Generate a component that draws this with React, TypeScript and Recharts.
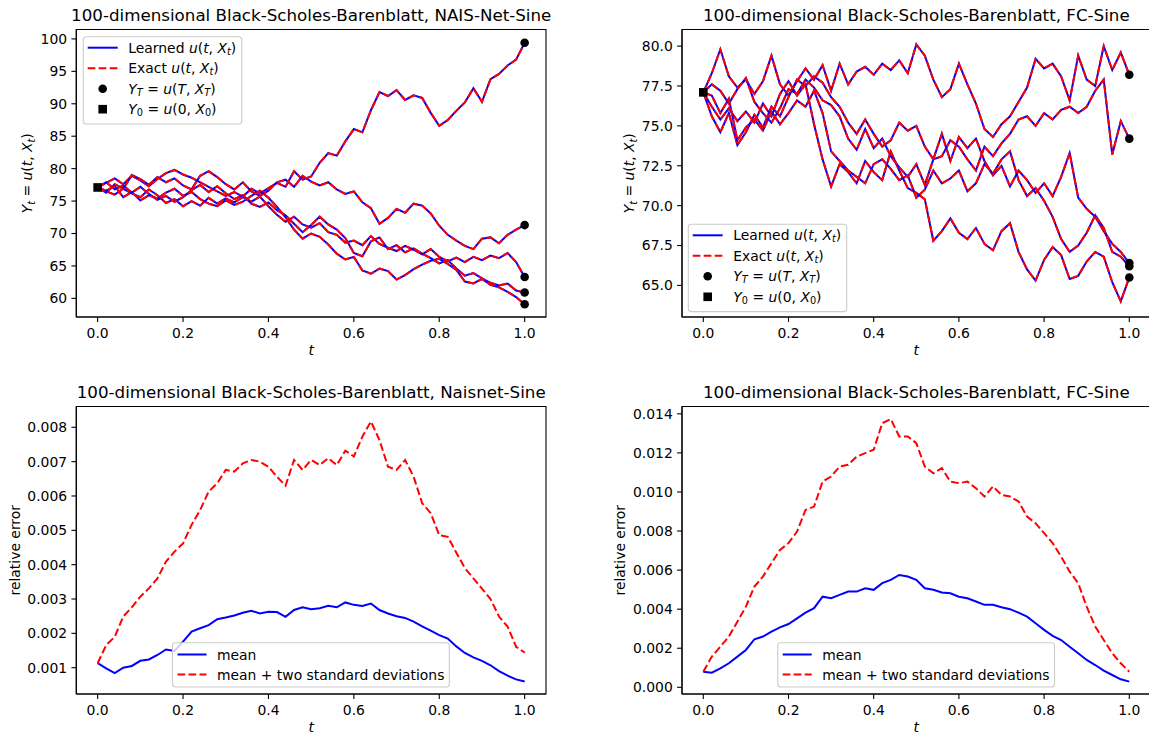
import React from "react";
import { ComposedChart, Line, Scatter, XAxis, YAxis, ReferenceArea } from "recharts";

const FONT = "'DejaVu Sans', sans-serif";
const BLUE = "#0000ff";
const RED = "#ff0000";
const DASH = "7.7 3.3";

// time grid shared by every curve
const T_GRID = [
  0, 0.02, 0.04, 0.06, 0.08, 0.1, 0.12, 0.14, 0.16, 0.18,
  0.2, 0.22, 0.24, 0.26, 0.28, 0.3, 0.32, 0.34, 0.36, 0.38,
  0.4, 0.42, 0.44, 0.46, 0.48, 0.5, 0.52, 0.54, 0.56, 0.58,
  0.6, 0.62, 0.64, 0.66, 0.68, 0.7, 0.72, 0.74, 0.76, 0.78,
  0.8, 0.82, 0.84, 0.86, 0.88, 0.9, 0.92, 0.94, 0.96, 0.98,
  1,
];
const X_TICKS = [0, 0.2, 0.4, 0.6, 0.8, 1];
const X_DOMAIN = [-0.05, 1.05];

// NAIS-Net-Sine sample paths
const NAIS_A = [
  77.1, 77.8, 78.5, 77.6, 78.9, 78.2, 77.3, 78.4, 79.3, 79.8,
  79.1, 78.6, 77.9, 77.2, 76.5, 75.8, 76.4, 75.7, 76.9, 76.2,
  77.0, 77.8, 77.2, 79.6, 78.3, 78.8, 80.9, 82.4, 82.0, 84.2,
  86.1, 85.6, 89.0, 91.8, 91.2, 92.1, 90.6, 91.3, 90.9, 88.6,
  86.6, 87.5, 88.9, 90.2, 92.4, 90.3, 93.8, 94.6, 95.9, 96.8,
  99.4,
];
const NAIS_B = [
  77.1, 76.3, 77.6, 76.9, 79.0, 78.4, 77.5, 78.7, 77.9, 78.5,
  77.4, 76.8, 78.9, 79.6, 78.7, 77.6, 76.8, 77.9, 76.5, 75.8,
  76.6, 77.9, 78.3, 77.2, 78.9, 78.0, 77.4, 77.9, 76.8, 76.1,
  76.5, 74.8, 73.9, 71.5, 72.4, 73.8, 73.2, 74.6, 74.3, 73.1,
  71.2, 69.8, 68.9, 68.1, 67.6, 69.2, 69.4, 68.5, 69.8, 70.6,
  71.3,
];
const NAIS_C = [
  77.1, 76.5, 76.0, 76.9, 76.2, 75.6, 76.8, 75.9, 74.7, 75.3,
  74.2, 75.0, 74.3, 75.5, 74.6, 75.4, 74.8, 75.6, 74.9, 75.7,
  74.2, 72.9, 71.8, 72.6, 71.4, 70.9, 71.6, 70.2, 69.8, 68.6,
  68.9, 68.2, 69.6, 68.4, 67.8, 67.3, 68.1, 67.5, 66.8, 67.6,
  66.4, 65.7, 66.3, 65.6, 66.4, 65.9, 66.6, 66.2, 67.0, 65.6,
  63.3,
];
const NAIS_D = [
  77.1, 77.9, 76.8, 77.4, 76.3, 77.2, 76.1, 75.2, 75.8, 74.9,
  75.6, 76.7, 77.5, 76.4, 77.3, 76.2, 75.3, 75.9, 74.6, 74.1,
  74.8, 73.6, 72.8, 71.5, 70.2, 71.3, 72.6, 71.4, 70.6, 69.3,
  67.0, 66.5, 68.8, 69.4, 67.6, 68.2, 67.1, 67.7, 66.9, 66.2,
  65.4, 65.9, 64.6, 63.5, 63.9, 63.1, 62.4, 62.0, 62.3, 61.2,
  60.9,
];
const NAIS_E = [
  77.1, 76.6, 77.3, 75.6, 76.4, 75.1, 75.9, 75.4, 76.3, 76.9,
  75.8, 76.4, 75.3, 74.6, 74.2, 75.1, 74.4, 74.9, 75.8, 76.6,
  75.5, 74.1, 72.5, 70.6, 69.2, 70.0, 69.5, 68.3, 66.9, 66.0,
  66.4, 64.3, 63.8, 64.6, 64.2, 62.9, 63.6, 64.5, 65.2, 65.8,
  66.1, 65.3, 64.4, 62.6, 62.3, 63.0, 62.1, 61.7, 61.0, 60.2,
  59.1,
];
const NAIS_START = [77.1];
const NAIS_END = [99.4, 71.3, 63.3, 60.9, 59.1];

// FC-Sine sample paths
const FC_A = [
  77.1, 78.3, 79.8, 78.1, 77.4, 77.9, 77.0, 77.8, 79.4, 77.6,
  76.9, 77.8, 78.6, 77.9, 78.8, 77.2, 78.9, 77.6, 78.4, 78.7,
  78.2, 78.9, 78.5, 79.1, 78.3, 80.1, 79.4, 77.9, 76.8, 77.3,
  78.9, 77.6, 76.4, 74.8, 74.3, 75.1, 75.6, 76.5, 77.4, 79.2,
  78.6, 78.9, 78.1, 76.6, 79.4, 77.9, 77.5, 80.0, 78.5, 79.6,
  78.2,
];
const FC_B = [
  77.1, 75.6, 74.6, 75.8, 73.8, 74.6, 75.7, 74.9, 76.2, 75.6,
  76.8, 77.9, 77.5, 78.1, 77.7, 76.8, 76.2, 75.2, 74.5, 75.4,
  74.5, 73.7, 74.1, 75.2, 74.7, 75.0, 73.7, 72.9, 73.1, 74.1,
  73.7, 72.9, 72.2, 73.7, 73.1, 73.9, 74.5, 75.4, 75.6, 75.0,
  75.8, 75.4, 76.0, 76.2, 75.8, 76.2, 77.2, 77.9, 73.2, 75.3,
  74.2,
];
const FC_C = [
  77.1, 76.2, 75.4, 76.1, 75.3, 75.9, 75.2, 76.4, 75.6, 77.0,
  77.8, 76.9, 77.6, 75.1, 72.9, 71.2, 72.6, 72.1, 71.4, 72.8,
  72.1, 71.6, 73.4, 72.2, 71.1, 70.8, 70.4, 67.8, 68.4, 69.2,
  68.3, 67.9, 68.6, 67.6, 67.2, 68.4, 68.9, 67.1, 66.0, 65.3,
  66.6, 67.4, 66.9, 65.4, 65.6, 66.5, 67.1, 66.8, 65.2, 64.0,
  65.5,
];
const FC_D = [
  77.1, 77.6, 77.2, 76.4, 77.3, 78.0, 76.5, 75.8, 75.2, 76.1,
  77.3, 77.0, 77.9, 77.4, 76.6, 76.3, 75.6, 74.2, 73.5, 74.8,
  73.6, 74.2, 73.1, 72.4, 71.8, 72.6, 71.3, 72.9, 74.5, 72.8,
  74.3, 73.6, 74.2, 72.8, 71.9, 72.5, 71.2, 72.2, 71.6, 70.8,
  71.4, 70.6, 71.8, 73.3, 70.5, 69.8, 69.3, 68.4, 67.6, 67.1,
  66.4,
];
const FC_E = [
  77.1, 76.9, 75.8, 76.7, 74.1, 74.9, 75.4, 74.7, 75.9, 75.1,
  75.8, 76.6, 76.2, 77.2, 75.8, 73.4, 72.8, 72.2, 71.8, 71.4,
  72.6, 72.9, 72.3, 71.6, 71.9, 70.5, 71.0, 72.2, 71.4, 71.7,
  72.2, 70.9, 71.4, 72.6, 72.0, 72.9, 73.4, 71.6, 70.6, 71.1,
  70.3, 69.3, 67.9, 67.1, 67.5, 68.3, 69.4, 68.6, 67.1, 66.8,
  66.2,
];
const FC_START = [77.1];
const FC_END = [78.2, 74.2, 65.5, 66.4, 66.2];

// relative errors
const NAIS_MEAN = [
  0.00113, 0.00098, 0.00084, 0.001, 0.00105, 0.0012, 0.00124, 0.00137, 0.00153, 0.00149,
  0.00176, 0.00205, 0.00215, 0.00224, 0.00241, 0.00246, 0.00252, 0.0026, 0.00266, 0.00258,
  0.00263, 0.00262, 0.00248, 0.00268, 0.00276, 0.0027, 0.00273, 0.0028, 0.00276, 0.0029,
  0.00283, 0.0028, 0.00287, 0.00268, 0.00258, 0.0025, 0.00245, 0.00234, 0.0022, 0.00208,
  0.00195, 0.00185, 0.00162, 0.00143, 0.0013, 0.0012, 0.00107, 0.0009, 0.00077, 0.00066,
  0.0006,
];
const NAIS_UPPER = [
  0.00113, 0.00166, 0.0019, 0.00249, 0.00276, 0.00307, 0.00331, 0.0036, 0.00409, 0.00438,
  0.00462, 0.00516, 0.00559, 0.00613, 0.00637, 0.00676, 0.00671, 0.00695, 0.00705, 0.007,
  0.00685, 0.00656, 0.0063, 0.00705, 0.00676, 0.00705, 0.0069, 0.0071, 0.0069, 0.00732,
  0.00715, 0.00773, 0.00817, 0.00763, 0.00685, 0.00676, 0.00705, 0.00656, 0.00579, 0.0055,
  0.00486, 0.00481, 0.00435, 0.0039, 0.0036, 0.0033, 0.003, 0.00249, 0.0022, 0.00161,
  0.00144,
];
const FC_MEAN = [
  0.0008, 0.00075, 0.00097, 0.00123, 0.00157, 0.00191, 0.00246, 0.0026, 0.00285, 0.00307,
  0.00324, 0.00353, 0.00382, 0.00405, 0.00464, 0.00456, 0.00473, 0.0049, 0.0049, 0.00507,
  0.00499, 0.00533, 0.0055, 0.00575, 0.00567, 0.0055, 0.00507, 0.00499, 0.00485, 0.00481,
  0.00464, 0.00456, 0.00439, 0.00422, 0.00422, 0.0041, 0.004, 0.00382, 0.00362, 0.00328,
  0.00294, 0.00263, 0.00242, 0.00208, 0.00174, 0.0014, 0.00114, 0.00085, 0.00063, 0.00041,
  0.00029,
];
const FC_UPPER = [
  0.0008, 0.00157, 0.00208, 0.0026, 0.00336, 0.00413, 0.00516, 0.00567, 0.00635, 0.00703,
  0.00738, 0.00797, 0.00908, 0.00925, 0.01053, 0.01079, 0.0113, 0.01139, 0.01181, 0.01199,
  0.01216, 0.01352, 0.01373, 0.01284, 0.01284, 0.0125, 0.0113, 0.01096, 0.01122, 0.01053,
  0.01045, 0.01053, 0.01019, 0.00977, 0.01028, 0.00985, 0.00977, 0.00951, 0.00874, 0.0084,
  0.00789, 0.00738, 0.00669, 0.00592, 0.00533, 0.00413, 0.00311, 0.00242, 0.00174, 0.00123,
  0.0008,
];

const NAIS_Y_TICKS = [60, 65, 70, 75, 80, 85, 90, 95, 100];
const FC_Y_TICKS = [65, 67.5, 70, 72.5, 75, 77.5, 80];
const NAIS_ERR_TICKS = [0.001, 0.002, 0.003, 0.004, 0.005, 0.006, 0.007, 0.008];
const FC_ERR_TICKS = [0, 0.002, 0.004, 0.006, 0.008, 0.01, 0.012, 0.014];

type Seg = { s: string; i?: boolean; sub?: boolean };

const LEARNED: Seg[] = [{ s: "Learned " }, { s: "u", i: true }, { s: "(" }, { s: "t", i: true }, { s: ", " }, { s: "X", i: true }, { s: "t", i: true, sub: true }, { s: ")" }];
const EXACT: Seg[] = [{ s: "Exact " }, { s: "u", i: true }, { s: "(" }, { s: "t", i: true }, { s: ", " }, { s: "X", i: true }, { s: "t", i: true, sub: true }, { s: ")" }];
const YT: Seg[] = [{ s: "Y", i: true }, { s: "T", i: true, sub: true }, { s: " = " }, { s: "u", i: true }, { s: "(" }, { s: "T", i: true }, { s: ", " }, { s: "X", i: true }, { s: "T", i: true, sub: true }, { s: ")" }];
const Y0: Seg[] = [{ s: "Y", i: true }, { s: "0", sub: true }, { s: " = " }, { s: "u", i: true }, { s: "(0, " }, { s: "X", i: true }, { s: "0", sub: true }, { s: ")" }];
const YLAB: Seg[] = [{ s: "Y", i: true }, { s: "t", i: true, sub: true }, { s: " = " }, { s: "u", i: true }, { s: "(" }, { s: "t", i: true }, { s: ", " }, { s: "X", i: true }, { s: "t", i: true, sub: true }, { s: ")" }];

const pathRows = (paths: number[][]) =>
  T_GRID.map((t, i) => {
    const r: Record<string, number> = { t };
    paths.forEach((p, k) => {
      r["l" + k] = p[i];
      r["e" + k] = p[i];
    });
    return r;
  });

const errRows = (mean: number[], upper: number[]) =>
  T_GRID.map((t, i) => ({ t, mean: mean[i], upper: upper[i] }));

const naisRows = pathRows([NAIS_A, NAIS_B, NAIS_C, NAIS_D, NAIS_E]);
const fcRows = pathRows([FC_A, FC_B, FC_C, FC_D, FC_E]);
const pathLines = [0, 1, 2, 3, 4].flatMap((k) => [
  { key: "l" + k, color: BLUE },
  { key: "e" + k, color: RED, dash: DASH },
]);
const errLines = [
  { key: "mean", color: BLUE },
  { key: "upper", color: RED, dash: DASH },
];

const TICK = { fill: "#000", fontSize: 13.9, fontFamily: FONT };
const AX = { stroke: "#000", strokeWidth: 1.1 };

const circleShape = (p: any) => <circle cx={p.cx} cy={p.cy} r={4.3} fill="#000" />;
const squareShape = (p: any) => <rect x={p.cx - 4.3} y={p.cy - 4.3} width={8.6} height={8.6} fill="#000" />;

function Panel(props: any) {
  const { left, top, width, height, margin, yWidth, xHeight, rows, lines, yDomain, yTicks, yFmt, ends, starts } = props;
  return (
    <div style={{ position: "absolute", left, top }}>
      <ComposedChart width={width} height={height} data={rows} margin={margin}>
        <XAxis dataKey="t" type="number" domain={X_DOMAIN} ticks={X_TICKS} interval={0} allowDataOverflow
          tickFormatter={(v: number) => v.toFixed(1)} height={xHeight} tick={TICK} tickLine={AX} axisLine={AX}
          tickSize={4.9} tickMargin={6} />
        <YAxis type="number" domain={yDomain} ticks={yTicks} interval={0} allowDataOverflow tickFormatter={yFmt}
          width={yWidth} tick={TICK} tickLine={AX} axisLine={AX} tickSize={4.9} tickMargin={4.3} />
        {/* axes frame (matplotlib spines) */}
        <ReferenceArea x1={X_DOMAIN[0]} x2={X_DOMAIN[1]} y1={yDomain[0]} y2={yDomain[1]} fill="none"
          stroke="#000" strokeWidth={1.1} strokeOpacity={1} ifOverflow="visible" />
        {lines.map((l: any) => (
          <Line key={l.key} dataKey={l.key} type="linear" stroke={l.color} strokeWidth={2} strokeDasharray={l.dash}
            dot={false} activeDot={false} isAnimationActive={false} />
        ))}
        {ends && (
          <Scatter data={ends.map((v: number) => ({ t: 1, v }))} dataKey="v" shape={circleShape} isAnimationActive={false} />
        )}
        {starts && (
          <Scatter data={starts.map((v: number) => ({ t: 0, v }))} dataKey="v" shape={squareShape} isAnimationActive={false} />
        )}
      </ComposedChart>
    </div>
  );
}

function MathText({ x, y, segs, size, anchor = "start", center = false, rotate = false }: any) {
  const shift = size * 0.22;
  let inSub = false;
  const spans = (segs as Seg[]).map((g, k) => {
    let dy: number | undefined;
    if (g.sub && !inSub) dy = shift;
    if (!g.sub && inSub) dy = -shift;
    inSub = !!g.sub;
    return (
      <tspan key={k} dy={dy} fontStyle={g.i ? "italic" : "normal"} fontSize={g.sub ? size * 0.7 : size}>
        {g.s}
      </tspan>
    );
  });
  return (
    <text x={rotate ? 0 : x} y={rotate ? 0 : y} transform={rotate ? `translate(${x},${y}) rotate(-90)` : undefined}
      textAnchor={anchor} dominantBaseline={center ? "central" : "alphabetic"} fontFamily={FONT} fontSize={size}
      fill="#000" style={{ whiteSpace: "pre" }}>
      {spans}
    </text>
  );
}

function MplLegend({ x, y, w, h, rows, row0, step, hx0, hx1, tx }: any) {
  return (
    <g>
      <rect x={x} y={y} width={w} height={h} rx={3} fill="#fff" fillOpacity={0.8} stroke="#cccccc" strokeWidth={1.1} />
      {rows.map((r: any, k: number) => {
        const cy = y + row0 + k * step;
        const mx = x + (hx0 + hx1) / 2;
        let handle;
        if (r.kind === "circle") handle = <circle cx={mx} cy={cy} r={4.3} fill="#000" />;
        else if (r.kind === "square") handle = <rect x={mx - 4.3} y={cy - 4.3} width={8.6} height={8.6} fill="#000" />;
        else handle = <line x1={x + hx0} x2={x + hx1} y1={cy} y2={cy} stroke={r.color} strokeWidth={2} strokeDasharray={r.dash} />;
        return (
          <g key={k}>
            {handle}
            <MathText x={x + tx} y={cy} segs={r.segs} size={13.9} center />
          </g>
        );
      })}
    </g>
  );
}

const PATH_LEGEND = [
  { kind: "line", color: BLUE, segs: LEARNED },
  { kind: "line", color: RED, dash: DASH, segs: EXACT },
  { kind: "circle", segs: YT },
  { kind: "square", segs: Y0 },
];
const ERR_LEGEND = [
  { kind: "line", color: BLUE, segs: [{ s: "mean" }] },
  { kind: "line", color: RED, dash: DASH, segs: [{ s: "mean + two standard deviations" }] },
];

export default function App() {
  const fmt1 = (v: number) => v.toFixed(1);
  const fmt3 = (v: number) => v.toFixed(3);
  return (
    <div style={{ position: "absolute", left: 0, top: 0, width: 1149, height: 734, overflow: "hidden", background: "#fff" }}>
      <Panel left={0} top={0} width={560} height={370} margin={{ top: 29.5, right: 14, bottom: 0, left: 0 }}
        yWidth={76.3} xHeight={53} rows={naisRows} lines={pathLines} yDomain={[57.13, 101.45]}
        yTicks={NAIS_Y_TICKS} yFmt={(v: number) => String(v)} ends={NAIS_END} starts={NAIS_START} />
      <Panel left={600} top={0} width={560} height={370} margin={{ top: 29.5, right: 9.4, bottom: 0, left: 0 }}
        yWidth={82} xHeight={53} rows={fcRows} lines={pathLines} yDomain={[63.02, 81.04]}
        yTicks={FC_Y_TICKS} yFmt={fmt1} ends={FC_END} starts={FC_START} />
      <Panel left={0} top={370} width={560} height={370} margin={{ top: 36.5, right: 14, bottom: 0, left: 0 }}
        yWidth={76.3} xHeight={46} rows={errRows(NAIS_MEAN, NAIS_UPPER)} lines={errLines}
        yDomain={[0.000234, 0.008606]} yTicks={NAIS_ERR_TICKS} yFmt={fmt3} />
      <Panel left={600} top={370} width={560} height={370} margin={{ top: 36.5, right: 9.4, bottom: 0, left: 0 }}
        yWidth={82} xHeight={46} rows={errRows(FC_MEAN, FC_UPPER)} lines={errLines}
        yDomain={[-0.000343, 0.014375]} yTicks={FC_ERR_TICKS} yFmt={fmt3} />

      <svg width={1149} height={734} style={{ position: "absolute", left: 0, top: 0, pointerEvents: "none" }}>
        <MathText x={311.2} y={21.2} size={16.7} anchor="middle" segs={[{ s: "100-dimensional Black-Scholes-Barenblatt, NAIS-Net-Sine" }]} />
        <MathText x={916.3} y={21.2} size={16.7} anchor="middle" segs={[{ s: "100-dimensional Black-Scholes-Barenblatt, FC-Sine" }]} />
        <MathText x={311.2} y={398.2} size={16.7} anchor="middle" segs={[{ s: "100-dimensional Black-Scholes-Barenblatt, Naisnet-Sine" }]} />
        <MathText x={916.3} y={398.2} size={16.7} anchor="middle" segs={[{ s: "100-dimensional Black-Scholes-Barenblatt, FC-Sine" }]} />

        <MathText x={311.2} y={355} size={13.9} anchor="middle" segs={[{ s: "t", i: true }]} />
        <MathText x={916.3} y={355} size={13.9} anchor="middle" segs={[{ s: "t", i: true }]} />
        <MathText x={311.2} y={732} size={13.9} anchor="middle" segs={[{ s: "t", i: true }]} />
        <MathText x={916.3} y={732} size={13.9} anchor="middle" segs={[{ s: "t", i: true }]} />

        <MathText x={31.5} y={173.25} size={13.9} anchor="middle" rotate segs={YLAB} />
        <MathText x={633.5} y={173.25} size={13.9} anchor="middle" rotate segs={YLAB} />
        <MathText x={19.6} y={550.25} size={13.9} anchor="middle" rotate segs={[{ s: "relative error" }]} />
        <MathText x={625.3} y={550.25} size={13.9} anchor="middle" rotate segs={[{ s: "relative error" }]} />

        <MplLegend x={83.3} y={36.7} w={158.4} h={87.3} rows={PATH_LEGEND} row0={11} step={20.5} hx0={4.4} hx1={34.4} tx={45} />
        <MplLegend x={688.3} y={224.3} w={158.4} h={87.3} rows={PATH_LEGEND} row0={11} step={20.5} hx0={4.4} hx1={34.4} tx={45} />
        <MplLegend x={172.5} y={642.7} w={276.8} h={44.3} rows={ERR_LEGEND} row0={11.8} step={20} hx0={5} hx1={34} tx={44.5} />
        <MplLegend x={777.7} y={642.7} w={276.8} h={44.3} rows={ERR_LEGEND} row0={11.8} step={20} hx0={5} hx1={34} tx={44.5} />
      </svg>
    </div>
  );
}
